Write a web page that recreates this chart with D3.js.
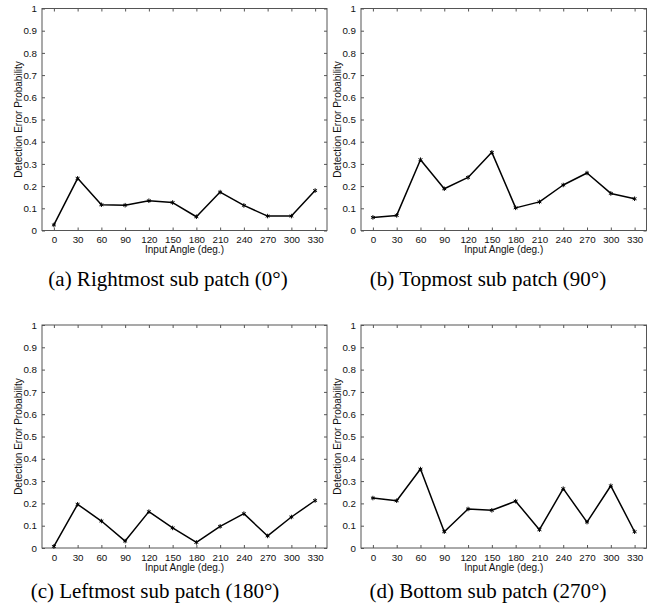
<!DOCTYPE html>
<html>
<head>
<meta charset="utf-8">
<script src="https://cdn.jsdelivr.net/npm/d3@7"></script>
<style>
  body { margin: 0; background: #fff; }
  svg { display: block; }
</style>
</head>
<body>
<div id="chart"></div>
<script>
// data
var angles = [0, 30, 60, 90, 120, 150, 180, 210, 240, 270, 300, 330]
var yTicks = [0, 0.1, 0.2, 0.3, 0.4, 0.5, 0.6, 0.7, 0.8, 0.9, 1]
var rightmost = [0.025, 0.235, 0.116, 0.114, 0.134, 0.126, 0.062, 0.173, 0.113, 0.065, 0.065, 0.180]
var topmost = [0.059, 0.068, 0.319, 0.188, 0.239, 0.352, 0.102, 0.129, 0.205, 0.259, 0.167, 0.143]
var leftmost = [0.007, 0.196, 0.121, 0.031, 0.163, 0.090, 0.025, 0.097, 0.154, 0.054, 0.139, 0.213]
var bottommost = [0.224, 0.212, 0.354, 0.073, 0.175, 0.169, 0.210, 0.082, 0.266, 0.116, 0.279, 0.073]
var captions = [
    '(a) Rightmost sub patch (0°)',
    '(b) Topmost sub patch (90°)',
    '(c) Leftmost sub patch (180°)',
    '(d) Bottom sub patch (270°)'
]
var series = [rightmost, topmost, leftmost, bottommost]

var W = 652, H = 607

var svg = d3.select('#chart')
    .append('svg')
    .attr('width', W)
    .attr('height', H)

// box of every panel and where its caption sits
var panels = [
    {x0: 42, x1: 327, y0: 8.5, y1: 230.5, cx: 168, cy: 279},
    {x0: 361, x1: 646.5, y0: 8.5, y1: 230.5, cx: 488, cy: 279},
    {x0: 42, x1: 327, y0: 325, y1: 548, cx: 155, cy: 591},
    {x0: 361, x1: 646.5, y0: 325, y1: 548, cx: 488, cy: 591}
]

var axisColor = '#555'

panels.forEach(function(p, i) {
    var x = d3.scaleLinear().domain([-15, 345]).range([p.x0, p.x1])
    var y = d3.scaleLinear().domain([0, 1]).range([p.y1, p.y0])
    var g = svg.append('g')

    // ticks pointing inwards on all four sides, like matlab
    var bottomAxis = g.append('g')
        .attr('transform', 'translate(0,' + p.y1 + ')')
        .call(d3.axisBottom(x).tickValues(angles).tickSize(-3).tickPadding(6))
    var topAxis = g.append('g')
        .attr('transform', 'translate(0,' + p.y0 + ')')
        .call(d3.axisTop(x).tickValues(angles).tickSize(-3).tickFormat(''))
    var leftAxis = g.append('g')
        .attr('transform', 'translate(' + p.x0 + ',0)')
        .call(d3.axisLeft(y).tickValues(yTicks).tickSize(-3).tickPadding(5).tickFormat(d3.format('~g')))
    var rightAxis = g.append('g')
        .attr('transform', 'translate(' + p.x1 + ',0)')
        .call(d3.axisRight(y).tickValues(yTicks).tickSize(-3).tickFormat(''))

    ;[bottomAxis, topAxis, leftAxis, rightAxis].forEach(function(a) {
        a.select('.domain').remove()
        a.selectAll('line').attr('stroke', axisColor)
        a.selectAll('text')
            .attr('fill', '#111')
            .style('font-family', 'Liberation Sans, Arial, sans-serif')
            .style('font-size', '9.8px')
    })

    g.append('rect')
        .attr('x', p.x0)
        .attr('y', p.y0)
        .attr('width', p.x1 - p.x0)
        .attr('height', p.y1 - p.y0)
        .attr('fill', 'none')
        .attr('stroke', axisColor)
        .attr('stroke-width', 1)

    // axis titles
    g.append('text')
        .attr('transform', 'translate(' + (p.x0 - 24) + ',' + (p.y0 + p.y1) / 2 + ') rotate(-90)')
        .attr('text-anchor', 'middle')
        .attr('dominant-baseline', 'central')
        .style('font-family', 'Liberation Sans, Arial, sans-serif')
        .style('font-size', '10px')
        .attr('fill', '#111')
        .text('Detection Error Probability')

    g.append('text')
        .attr('x', (p.x0 + p.x1) / 2)
        .attr('y', p.y1 + 19)
        .attr('text-anchor', 'middle')
        .attr('dominant-baseline', 'central')
        .style('font-family', 'Liberation Sans, Arial, sans-serif')
        .style('font-size', '10px')
        .attr('fill', '#111')
        .text('Input Angle (deg.)')

    // the curve
    var vals = series[i]
    var line = d3.line()
        .x(function(d, j) { return x(angles[j]) })
        .y(function(d) { return y(d) })

    g.append('path')
        .datum(vals)
        .attr('d', line)
        .attr('fill', 'none')
        .attr('stroke', '#000')
        .attr('stroke-width', 1.5)
        .attr('stroke-linejoin', 'round')

    g.selectAll('.mark')
        .data(vals)
        .enter()
        .append('path')
        .attr('class', 'mark')
        .attr('transform', function(d, j) { return 'translate(' + x(angles[j]) + ',' + y(d) + ')' })
        .attr('d', d3.symbol().type(d3.symbolAsterisk).size(14))
        .attr('fill', 'none')
        .attr('stroke', '#000')
        .attr('stroke-width', 1)

    // caption under the panel
    svg.append('text')
        .attr('x', p.cx)
        .attr('y', p.cy)
        .attr('text-anchor', 'middle')
        .attr('dominant-baseline', 'central')
        .style('font-family', 'Liberation Serif, Times New Roman, serif')
        .style('font-size', '21px')
        .attr('fill', '#000')
        .text(captions[i])
})
</script>
</body>
</html>
